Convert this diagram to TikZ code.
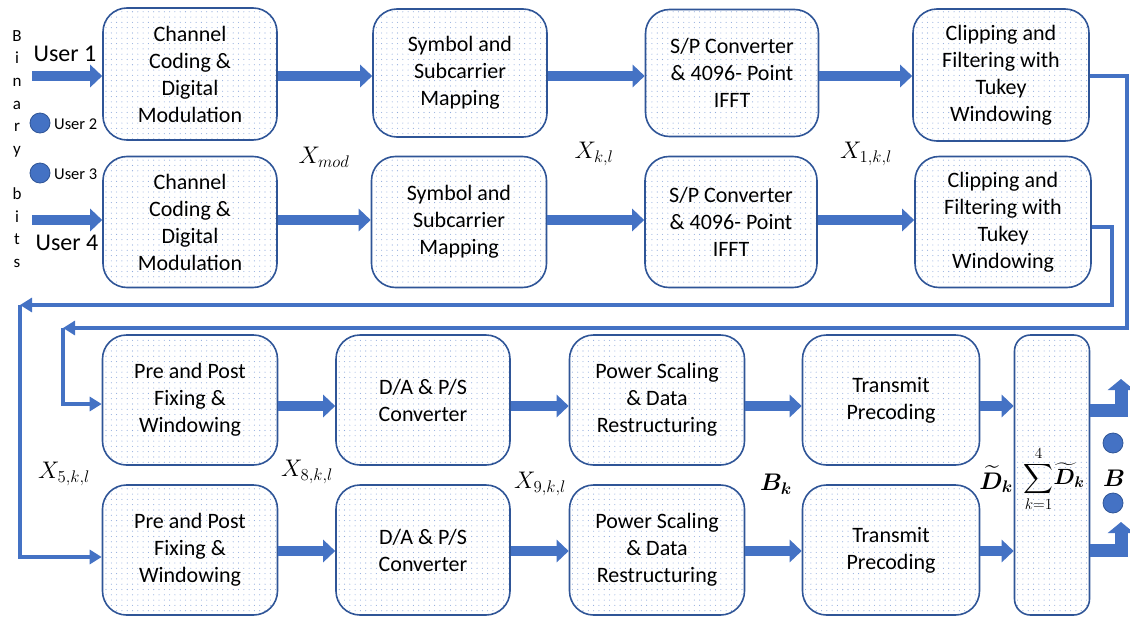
\RequirePackage{fix-cm}
\documentclass[tikz,border=0pt]{standalone}
\usepackage[no-math]{fontspec}
\setmainfont{Carlito}
\usepackage{amsmath,bm}
\usetikzlibrary{arrows.meta,patterns.meta}
\definecolor{ablue}{HTML}{4472C4}
\definecolor{bblue}{HTML}{2F5597}
\definecolor{dblue}{HTML}{8FAADC}
\begin{document}
\begin{tikzpicture}[x=1pt,y=-1pt,
  box/.style={draw=bblue, line width=1.6pt, rounded corners=24pt,
    pattern={Dots[distance=5.3pt,radius=0.55pt]}, pattern color=dblue,
    minimum width=174pt, minimum height=130pt, align=center, inner sep=0pt,
    font=\fontsize{22}{27}\selectfont},
  blk/.style={ablue, line width=10pt, -{Triangle[length=12pt,width=22pt]}},
  conn/.style={ablue, line width=4pt},
  connarr/.style={conn, -{Triangle[length=12pt,width=14pt]}},
  bent/.style={ablue, line width=13pt, line join=miter, -{Triangle[length=11pt,width=26pt]}},
  lbl/.style={font=\fontsize{24}{28}\selectfont, inner sep=0pt},
  ucircle/.style={circle, fill=ablue, draw=bblue, line width=0.8pt, minimum size=20pt, inner sep=0pt}]
\useasboundingbox (0,0) rectangle (1130,616);

% row coordinates
\coordinate (r1) at (0,76);
\coordinate (r2) at (0,220);
\coordinate (r3) at (0,406);
\coordinate (r4) at (0,551);

% boxes
\node[box, minimum height=132pt] (A1) at (190,74) {Channel\\Coding \&\\Digital\\Modulation};
\node[box, minimum height=128pt] (B1) at (460,73) {Symbol and\\Subcarrier\\Mapping};
\node[box, minimum width=173pt, minimum height=127pt] (C1) at (732,73) {S/P Converter\\\& 4096- Point\\IFFT};
\node[box, minimum width=176pt, minimum height=132pt] (D1) at (1001,75) {Clipping and\\Filtering with\\Tukey\\Windowing};

\node[box, minimum height=131pt] (A2) at (190,222) {Channel\\Coding \&\\Digital\\Modulation};
\node[box, minimum width=175pt, minimum height=131pt] (B2) at (459,222) {Symbol and\\Subcarrier\\Mapping};
\node[box, minimum width=172pt, minimum height=131pt] (C2) at (731,222) {S/P Converter\\\& 4096- Point\\IFFT};
\node[box, minimum width=176pt, minimum height=131pt] (D2) at (1003,222) {Clipping and\\Filtering with\\Tukey\\Windowing};

\node[box, minimum width=175pt] (E1) at (190,400) {Pre and Post\\Fixing \&\\Windowing};
\node[box] (F1) at (423,400) {D/A \& P/S\\Converter};
\node[box, minimum width=175pt] (G1) at (657,400) {Power Scaling\\\& Data\\Restructuring};
\node[box, minimum width=177pt] (H1) at (891,400) {Transmit\\Precoding};

\node[box, minimum width=175pt] (E2) at (190,550) {Pre and Post\\Fixing \&\\Windowing};
\node[box] (F2) at (423,550) {D/A \& P/S\\Converter};
\node[box, minimum width=175pt] (G2) at (657,550) {Power Scaling\\\& Data\\Restructuring};
\node[box, minimum width=177pt] (H2) at (891,550) {Transmit\\Precoding};

\node[box, rounded corners=16pt, minimum width=75pt, minimum height=280pt] (S) at (1052,475) {};

% users
\node[font=\fontsize{17}{22.6}\selectfont, align=center, inner sep=0pt] (bits) at (17,149)
  {B\\i\\n\\a\\r\\y\\[22.6pt]b\\i\\t\\s};
\node[font=\fontsize{24}{28}\selectfont, inner sep=0pt] (tu1) at (65,54) {User 1};
\node[font=\fontsize{24}{28}\selectfont, inner sep=0pt] (tu4) at (67,243) {User 4};
\node[ucircle] (c2) at (40,123) {};
\node[ucircle] (c3) at (40,173) {};
\node[anchor=west, font=\fontsize{16.5}{20}\selectfont, inner sep=0pt] (tu2) at (54,124) {User 2};
\node[anchor=west, font=\fontsize{16.5}{20}\selectfont, inner sep=0pt] (tu3) at (54,174) {User 3};
\coordinate (u1) at (32,76);
\coordinate (u4) at (32,220);
\draw[blk] (u1) -- (A1.west |- u1);
\draw[blk] (u4) -- (A2.west |- u4);

% block arrows
\draw[blk] (A1.east |- r1) -- (B1.west |- r1);
\draw[blk] (B1.east |- r1) -- (C1.west |- r1);
\draw[blk] (C1.east |- r1) -- (D1.west |- r1);
\draw[blk] (A2.east |- r2) -- (B2.west |- r2);
\draw[blk] (B2.east |- r2) -- (C2.west |- r2);
\draw[blk] (C2.east |- r2) -- (D2.west |- r2);
\draw[blk] (E1.east |- r3) -- (F1.west |- r3);
\draw[blk] (F1.east |- r3) -- (G1.west |- r3);
\draw[blk] (G1.east |- r3) -- (H1.west |- r3);
\draw[blk] (H1.east |- r3) -- (S.west |- r3);
\draw[blk] (E2.east |- r4) -- (F2.west |- r4);
\draw[blk] (F2.east |- r4) -- (G2.west |- r4);
\draw[blk] (G2.east |- r4) -- (H2.west |- r4);
\draw[blk] (H2.east |- r4) -- (S.west |- r4);

% feedback connectors
\coordinate (p1) at (1127,328);
\coordinate (q1) at (63,328);
\coordinate (e1in) at (0,404);
\draw[connarr] (D1.east |- r1) -| (p1) -- (q1);
\draw[connarr] (q1) |- (E1.west |- e1in);

\coordinate (d2out) at (0,227);
\coordinate (p2) at (1112,305);
\coordinate (q2) at (20,305);
\coordinate (e2in) at (0,557);
\draw[connarr] (D2.east |- d2out) -| (p2) -- (q2);
\draw[connarr] (q2) |- (E2.west |- e2in);

% outputs
\coordinate (s1) at (0,410);
\coordinate (s2) at (0,550);
\coordinate (o1) at (1121,379);
\coordinate (o2) at (1121,522);
\draw[bent] (S.east |- s1) -| (o1);
\draw[bent] (S.east |- s2) -| (o2);
\node[ucircle] (c5) at (1113,443) {};
\node[ucircle] (c6) at (1113,503) {};

% labels
\node[lbl] (xmod) at (324,157) {$X_{mod}$};
\node[lbl] (xkl) at (594,154) {$X_{k,l}$};
\node[lbl] (x1) at (866,154) {$X_{1,k,l}$};
\node[lbl] (x5) at (64,474) {$X_{5,k,l}$};
\node[lbl] (x8) at (307,472) {$X_{8,k,l}$};
\node[lbl] (x9) at (540,484) {$X_{9,k,l}$};
\node[lbl] (bk) at (776,484) {$\bm{B}_{\bm{k}}$};
\node[lbl] (dk) at (996,479) {$\widetilde{\bm{D}}_{\bm{k}}$};
\node[lbl, font=\fontsize{22}{26}\selectfont] (sm) at (1054,479) {$\displaystyle\sum_{k=1}^{4}\!\widetilde{\bm{D}}_{\bm{k}}$};
\node[lbl] (bo) at (1114,478) {$\bm{B}$};
\end{tikzpicture}
\end{document}
